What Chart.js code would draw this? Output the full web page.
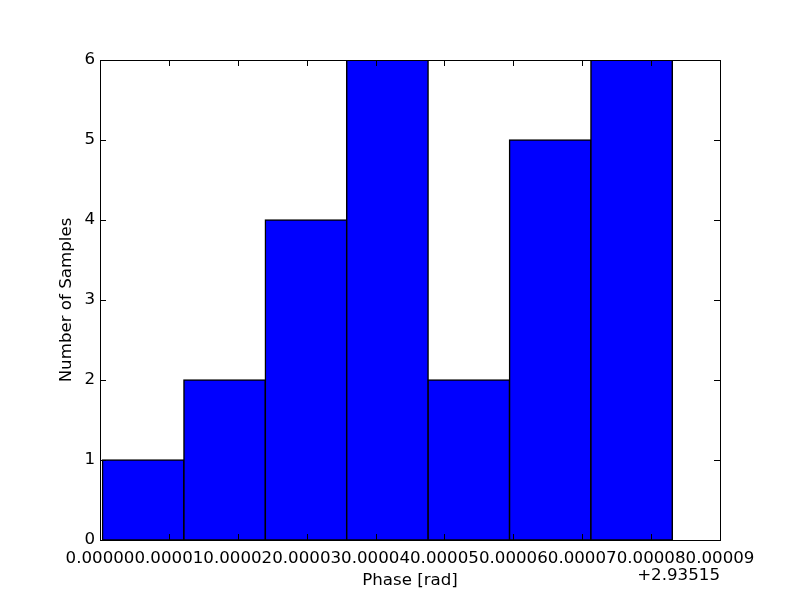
<!DOCTYPE html>
<html>
<head>
<meta charset="utf-8">
<script src="https://cdn.jsdelivr.net/npm/chart.js@4/dist/chart.umd.min.js"></script>
<style>
  html, body { margin: 0; padding: 0; background: #ffffff; }
  #wrap { width: 800px; height: 600px; }
</style>
</head>
<body>
<div id="wrap"><canvas id="c" width="800" height="600"></canvas></div>
<script>
// ---- data (phase values relative to the axis offset) ----
const OFFSET = 2.93515;
const binEdges = [0.00000036, 0.00001218, 0.00002400, 0.00003581, 0.00004763, 0.00005945, 0.00007126, 0.00008308];
const counts = [1, 2, 4, 6, 2, 5, 6];
const xTickValues = [0, 0.00001, 0.00002, 0.00003, 0.00004, 0.00005, 0.00006, 0.00007, 0.00008, 0.00009];
const yTickValues = [0, 1, 2, 3, 4, 5, 6];
const xTitle = 'Phase [rad]';
const yTitle = 'Number of Samples';

const FONT = { family: 'DejaVu Sans', size: 16.67 };

const barData = counts.map((c, i) => ({ x: (binEdges[i] + binEdges[i + 1]) / 2, y: c }));

const framePlugin = {
  id: 'frame',
  afterDatasetsDraw(chart) {
    const { ctx, chartArea: a } = chart;
    const xs = chart.scales.x, ys = chart.scales.y;
    const tl = 6;
    ctx.save();
    ctx.strokeStyle = '#000000';
    ctx.lineWidth = 1;
    ctx.beginPath();
    xTickValues.forEach(v => {
      const px = Math.round(xs.getPixelForValue(v)) + 0.5;
      ctx.moveTo(px, a.bottom); ctx.lineTo(px, a.bottom - tl);
      ctx.moveTo(px, a.top); ctx.lineTo(px, a.top + tl);
    });
    yTickValues.forEach(v => {
      const py = Math.round(ys.getPixelForValue(v)) + 0.5;
      ctx.moveTo(a.left, py); ctx.lineTo(a.left + tl, py);
      ctx.moveTo(a.right, py); ctx.lineTo(a.right - tl, py);
    });
    ctx.stroke();
    ctx.strokeRect(Math.round(a.left) + 0.5, Math.round(a.top) + 0.5,
                   Math.round(a.right - a.left), Math.round(a.bottom - a.top));
    // offset text
    ctx.fillStyle = '#000000';
    ctx.font = FONT.size + 'px "' + FONT.family + '"';
    ctx.textAlign = 'right';
    ctx.textBaseline = 'middle';
    ctx.fillText('+' + OFFSET.toFixed(5), a.right, a.bottom + 36);
    ctx.restore();
  }
};

new Chart(document.getElementById('c'), {
  type: 'bar',
  data: {
    datasets: [{
      data: barData,
      xAxisID: 'x',
      yAxisID: 'y',
      backgroundColor: '#0000ff',
      borderColor: '#000000',
      borderWidth: 1.5,
      borderSkipped: false,
      barPercentage: 1,
      categoryPercentage: 1,
      inflateAmount: 0.75,
      barThickness: (ctx) => {
        const s = ctx.chart.scales.x;
        return Math.abs(s.getPixelForValue(binEdges[1]) - s.getPixelForValue(binEdges[0]));
      }
    }]
  },
  options: {
    responsive: false,
    animation: false,
    devicePixelRatio: 1,
    layout: { padding: { left: 0, right: 80, top: 60, bottom: 0 } },
    plugins: { legend: { display: false }, tooltip: { enabled: false } },
    scales: {
      x: {
        type: 'linear', position: 'bottom', min: 0, max: 0.00009, offset: false,
        afterBuildTicks: s => { s.ticks = xTickValues.map(v => ({ value: v })); },
        afterFit: s => { s.height = 60; },
        grid: { display: false, drawTicks: false, offset: false },
        border: { display: false },
        ticks: {
          color: '#000000', font: FONT, padding: 9, maxRotation: 0, autoSkip: false,
          callback: v => v.toFixed(5)
        },
        title: { display: true, text: xTitle, color: '#000000', font: FONT, padding: { top: 0, bottom: 9 } }
      },
      y: {
        type: 'linear', position: 'left', min: 0, max: 6,
        afterBuildTicks: s => { s.ticks = yTickValues.map(v => ({ value: v })); },
        afterFit: s => { s.width = 100; },
        grid: { display: false, drawTicks: false },
        border: { display: false },
        ticks: { color: '#000000', font: FONT, padding: 5, callback: v => String(v) },
        title: { display: true, text: yTitle, color: '#000000', font: FONT, padding: { top: 57, bottom: 0 } }
      }
    }
  },
  plugins: [framePlugin]
});
</script>
</body>
</html>
